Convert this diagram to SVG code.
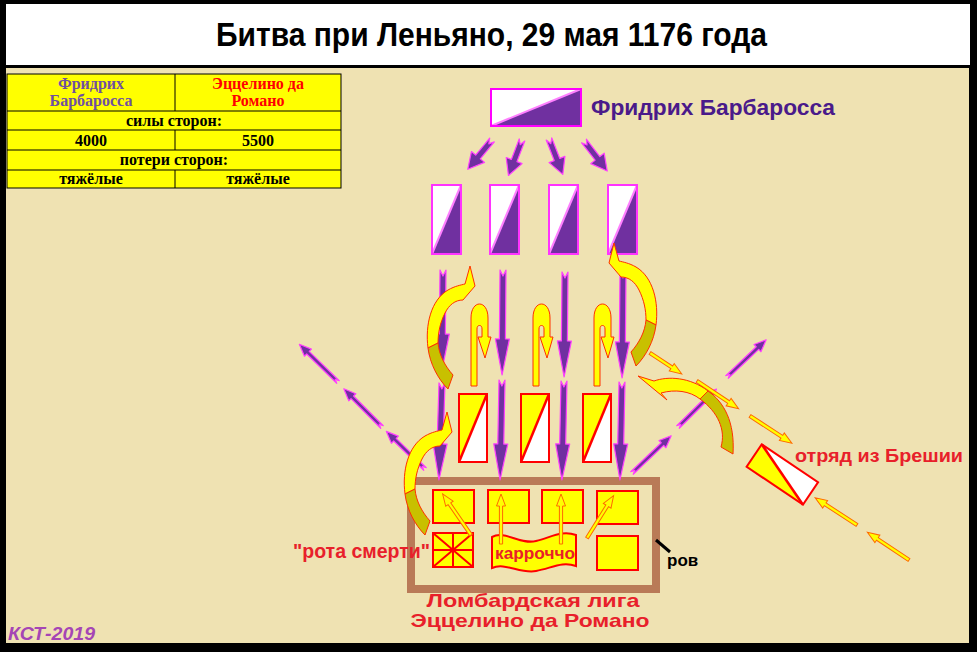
<svg xmlns="http://www.w3.org/2000/svg" width="977" height="652" viewBox="0 0 977 652">
<style>
.ttl{font-family:"Liberation Sans Narrow","Liberation Sans",Arial,sans-serif;font-weight:bold;font-size:33px;fill:#000}
.tb{font-family:"Liberation Serif","Times New Roman",serif;font-weight:bold;font-size:16px;text-anchor:middle;fill:#000}
.sans{font-family:"Liberation Sans",Arial,sans-serif;font-weight:bold}
.red{fill:#e8202a}
.pa{fill:#7030a0;stroke:#ff40ff;stroke-width:1.2;stroke-linejoin:round}
.oa{fill:#ffff00;stroke:#ff6a00;stroke-width:1}
.cy{fill:#ffff00;stroke:#ff3000;stroke-width:1}
.co{fill:#c8c000;stroke:#ff3000;stroke-width:1}
.yu{fill:#ffff00;stroke:#ff0000;stroke-width:2}
.ln{stroke:#000;stroke-width:1}
</style>
<defs>
<path id="pa54" class="pa" d="M0,-1.8 L4,0 L0,1.8 L42,1.8 L42,5 L54,0 L42,-5 L42,-1.8 Z"/>
<path id="oa50" class="oa" d="M0,-1.6 L38,-1.6 L38,-4.5 L50,0 L38,4.5 L38,1.6 L0,1.6 Z"/>
<path id="oa38" class="oa" d="M0,-1.6 L26,-1.6 L26,-4.5 L38,0 L26,4.5 L26,1.6 L0,1.6 Z"/>
<path id="sa38" class="pa" d="M0,-3 L5,0 L0,3 L22,3 L22,8.5 L38,0 L22,-8.5 L22,-3 Z"/>
<path id="hook" class="cy" d="M471,386 L471,318 C471,309 475,304 479.5,304 C484,304 488,309 488,318 L488,337 L491,337 L485,358 L478,337 L482,337 L482,329 C482,326.5 481,325.5 479.5,325.5 C478,325.5 477,326.5 477,329 L477,386 Z"/>
<g id="curvA">
<path class="cy" d="M428,348 C425,325 431,300 448,290 C455,286 461,285 465,284 L470,266 L475,286 L463,300 C455,300 449,305 445,313 C440,323 438,333 438,343 Z"/>
<path class="co" d="M428,348 C430,364 438,379 448,389 L453,375 C445,366 439,355 438,343 Z"/>
</g>
</defs>

<rect x="0" y="0" width="977" height="652" fill="#000"/>
<rect x="6" y="4" width="964" height="61" fill="#fff"/>
<rect x="6" y="68" width="963" height="575" fill="#efe2b2"/>
<text class="ttl" x="216" y="46" textLength="551" lengthAdjust="spacingAndGlyphs">Битва при Леньяно, 29 мая 1176 года</text>

<g id="table">
<rect x="7" y="74" width="334" height="114" fill="#ffff00" stroke="#000" stroke-width="1"/>
<line class="ln" x1="7" y1="111" x2="341" y2="111"/>
<line class="ln" x1="7" y1="130" x2="341" y2="130"/>
<line class="ln" x1="7" y1="150" x2="341" y2="150"/>
<line class="ln" x1="7" y1="170" x2="341" y2="170"/>
<line class="ln" x1="175" y1="74" x2="175" y2="111"/>
<line class="ln" x1="175" y1="130" x2="175" y2="150"/>
<line class="ln" x1="175" y1="170" x2="175" y2="188"/>
<text class="tb" x="91" y="89" style="fill:#7050a0">Фридрих</text>
<text class="tb" x="91" y="106" style="fill:#7050a0">Барбаросса</text>
<text class="tb" x="258" y="89" style="fill:#ff0000">Эццелино да</text>
<text class="tb" x="258" y="106" style="fill:#ff0000">Романо</text>
<text class="tb" x="174" y="126">силы сторон:</text>
<text class="tb" x="91" y="145.5">4000</text>
<text class="tb" x="258" y="145.5">5500</text>
<text class="tb" x="174" y="165">потери сторон:</text>
<text class="tb" x="91" y="184">тяжёлые</text>
<text class="tb" x="258" y="184">тяжёлые</text>
</g>

<g id="camp">
<rect x="411" y="481" width="245" height="108" fill="none" stroke="#b97a57" stroke-width="8"/>
<line x1="656" y1="540" x2="670" y2="552" stroke="#000" stroke-width="3"/>
<text class="sans" x="667" y="566" font-size="17" fill="#000">ров</text>
</g>

<g id="barbarossa">
<rect x="491" y="89" width="90" height="37" fill="#fff"/>
<polygon points="491,126 581,89 581,126" fill="#7030a0"/>
<line x1="491" y1="126" x2="581" y2="89" stroke="#ff80ff" stroke-width="2"/>
<rect x="491" y="89" width="90" height="37" fill="none" stroke="#ff00ff" stroke-width="2"/>
<text class="sans" x="591" y="115" font-size="22" fill="#4a1a8a" textLength="244" lengthAdjust="spacingAndGlyphs">Фридрих Барбаросса</text>
</g>

<g id="imp1">
<rect x="432" y="185" width="29" height="69" fill="#fff"/>
<polygon points="432,254 461,185 461,254" fill="#7030a0"/>
<line x1="432" y1="254" x2="461" y2="185" stroke="#ff80ff" stroke-width="2"/>
<rect x="432" y="185" width="29" height="69" fill="none" stroke="#ff33ff" stroke-width="2"/>
</g>
<g id="imp2">
<rect x="490" y="185" width="29" height="69" fill="#fff"/>
<polygon points="490,254 519,185 519,254" fill="#7030a0"/>
<line x1="490" y1="254" x2="519" y2="185" stroke="#ff80ff" stroke-width="2"/>
<rect x="490" y="185" width="29" height="69" fill="none" stroke="#ff33ff" stroke-width="2"/>
</g>
<g id="imp3">
<rect x="549" y="185" width="29" height="69" fill="#fff"/>
<polygon points="549,254 578,185 578,254" fill="#7030a0"/>
<line x1="549" y1="254" x2="578" y2="185" stroke="#ff80ff" stroke-width="2"/>
<rect x="549" y="185" width="29" height="69" fill="none" stroke="#ff33ff" stroke-width="2"/>
</g>
<g id="imp4">
<rect x="608" y="185" width="29" height="69" fill="#fff"/>
<polygon points="608,254 637,185 637,254" fill="#7030a0"/>
<line x1="608" y1="254" x2="637" y2="185" stroke="#ff80ff" stroke-width="2"/>
<rect x="608" y="185" width="29" height="69" fill="none" stroke="#ff33ff" stroke-width="2"/>
</g>

<g id="lomb1">
<rect x="459" y="394" width="28" height="68" fill="#ffff00"/>
<polygon points="459,462 487,394 487,462" fill="#fff"/>
<line x1="459" y1="462" x2="487" y2="394" stroke="#ff0000" stroke-width="2.5"/>
<rect x="459" y="394" width="28" height="68" fill="none" stroke="#ff0000" stroke-width="2"/>
</g>
<g id="lomb2">
<rect x="521" y="394" width="28" height="68" fill="#ffff00"/>
<polygon points="521,462 549,394 549,462" fill="#fff"/>
<line x1="521" y1="462" x2="549" y2="394" stroke="#ff0000" stroke-width="2.5"/>
<rect x="521" y="394" width="28" height="68" fill="none" stroke="#ff0000" stroke-width="2"/>
</g>
<g id="lomb3">
<rect x="583" y="394" width="28" height="68" fill="#ffff00"/>
<polygon points="583,462 611,394 611,462" fill="#fff"/>
<line x1="583" y1="462" x2="611" y2="394" stroke="#ff0000" stroke-width="2.5"/>
<rect x="583" y="394" width="28" height="68" fill="none" stroke="#ff0000" stroke-width="2"/>
</g>

<g id="brescia">
<g transform="translate(761.7,444.3) rotate(34)">
<rect x="0" y="0" width="68" height="27" fill="#fff"/>
<polygon points="0,0 0,27 68,27" fill="#ffff00"/>
<line x1="0" y1="0" x2="68" y2="27" stroke="#ff0000" stroke-width="2.5"/>
<rect x="0" y="0" width="68" height="27" fill="none" stroke="#ff0000" stroke-width="2"/>
</g>
<text class="sans red" x="795" y="462" font-size="18" textLength="168" lengthAdjust="spacingAndGlyphs">отряд из Брешии</text>
</g>

<g id="camp-units">
<rect class="yu" x="433" y="490" width="41" height="33"/>
<rect class="yu" x="488" y="490" width="41" height="33"/>
<rect class="yu" x="542" y="490" width="41" height="33"/>
<rect class="yu" x="597" y="491" width="41" height="33"/>
<rect class="yu" x="597" y="536" width="41" height="34"/>
</g>
<g id="rota">
<rect class="yu" x="433" y="533" width="40" height="34"/>
<path d="M433,533 L473,567 M473,533 L433,567 M433,550 L473,550 M453,533 L453,567" stroke="#ff0000" stroke-width="2" fill="none"/>
<text class="sans red" x="293" y="558" font-size="19.5" textLength="137" lengthAdjust="spacingAndGlyphs">"рота смерти"</text>
</g>
<g id="carroccio">
<path class="yu" d="M492,537 C505,530 520,545 536,541 C552,537 562,530 576,535 L576,566 C562,561 552,568 536,571 C520,574 505,562 492,568 Z"/>
<text class="sans red" x="495" y="559" font-size="17" textLength="80" lengthAdjust="spacingAndGlyphs">карроччо</text>
</g>

<g id="labels">
<text class="sans red" x="533" y="607" font-size="19" text-anchor="middle" textLength="213" lengthAdjust="spacingAndGlyphs">Ломбардская лига</text>
<text class="sans red" x="530" y="627" font-size="19" text-anchor="middle" textLength="239" lengthAdjust="spacingAndGlyphs">Эццелино да Романо</text>
<text x="8" y="640" font-family="Liberation Sans, Arial, sans-serif" font-weight="bold" font-style="italic" font-size="19" fill="#a545b5" textLength="87" lengthAdjust="spacingAndGlyphs">КСТ-2019</text>
</g>

<g id="connectors">
<use href="#sa38" transform="translate(492,140) rotate(129.6)"/>
<use href="#sa38" transform="translate(522,140) rotate(110.9)"/>
<use href="#sa38" transform="translate(549,139) rotate(68.7)"/>
<use href="#sa38" transform="translate(584,141) rotate(52.3)"/>

<path class="pa" transform="translate(443,270) rotate(90.6)" d="M0,-3 L6,0 L0,3 L64,3 L64,7 L100,0 L64,-7 L64,-3 Z"/>
<path class="pa" transform="translate(442,383) rotate(91.8)" d="M0,-3 L6,0 L0,3 L61,3 L61,7 L97,0 L61,-7 L61,-3 Z"/>
<path class="pa" transform="translate(503,270) rotate(90.5)" d="M0,-3 L6,0 L0,3 L69,3 L69,7 L105,0 L69,-7 L69,-3 Z"/>
<path class="pa" transform="translate(502,380) rotate(91.1)" d="M0,-3 L6,0 L0,3 L64,3 L64,7 L100,0 L64,-7 L64,-3 Z"/>
<path class="pa" transform="translate(565,272) rotate(90.5)" d="M0,-3 L6,0 L0,3 L69,3 L69,7 L105,0 L69,-7 L69,-3 Z"/>
<path class="pa" transform="translate(564,381) rotate(91.2)" d="M0,-3 L6,0 L0,3 L63,3 L63,7 L99,0 L63,-7 L63,-3 Z"/>
<path class="pa" transform="translate(623,272) rotate(90.5)" d="M0,-3 L6,0 L0,3 L70,3 L70,7 L106,0 L70,-7 L70,-3 Z"/>
<path class="pa" transform="translate(622,382) rotate(91.2)" d="M0,-3 L6,0 L0,3 L62,3 L62,7 L98,0 L62,-7 L62,-3 Z"/>

<use href="#pa54" transform="translate(338,382) rotate(-135.7)"/>
<use href="#pa54" transform="translate(382,427) rotate(-135)"/>
<use href="#pa54" transform="translate(425,469) rotate(-135.8)"/>
<use href="#pa54" transform="translate(632,473) rotate(-43.5)"/>
<use href="#pa54" transform="translate(678,427) rotate(-44.6)"/>
<use href="#pa54" transform="translate(727,377) rotate(-43.5)"/>

<use href="#oa38" transform="translate(650,353) rotate(33.3)"/>
<use href="#oa50" transform="translate(697,381) rotate(33.7)"/>
<use href="#oa50" transform="translate(750,416) rotate(33.1)"/>
<use href="#oa50" transform="translate(909,560) rotate(213.7)"/>
<use href="#oa50" transform="translate(857,525) rotate(213.1)"/>
<use href="#oa50" transform="translate(471,535) rotate(-124.6)"/>
<use href="#oa50" transform="translate(501,544) rotate(-90)"/>
<use href="#oa50" transform="translate(561,544) rotate(-90)"/>
<use href="#oa50" transform="translate(587,538) rotate(-57.9)"/>

<use href="#hook"/>
<use href="#hook" transform="translate(62,0)"/>
<use href="#hook" transform="translate(123,0)"/>

<use href="#curvA"/>
<use href="#curvA" transform="translate(1084,-23) scale(-1,1)"/>
<use href="#curvA" transform="translate(-23,146)"/>
<path class="co" d="M708,391 C724,402 735,422 733,454 L721,447 C726,430 718,412 700,399 Z"/>
<path class="cy" d="M638,376 L654,381 C668,376 690,377 708,391 L700,399 C690,391 675,389 661,393 L667,400 Z"/>
</g>
</svg>
